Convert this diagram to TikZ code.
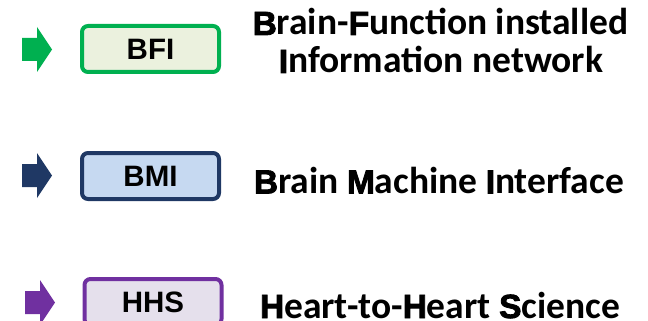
\documentclass[tikz,border=0pt]{standalone}
\usepackage{fontspec}
\setmainfont{Carlito}
\newfontfamily\initfont[FakeBold=2.5]{Liberation Sans Bold}
\newfontfamily\tagfont{Liberation Sans}
\definecolor{bfiline}{RGB}{0,176,80}
\definecolor{bfifill}{RGB}{235,241,222}
\definecolor{bmiline}{RGB}{31,56,100}
\definecolor{bmifill}{RGB}{198,217,241}
\definecolor{hhsline}{RGB}{112,48,160}
\definecolor{hhsfill}{RGB}{229,224,236}
% big heavy initial letter
\newcommand{\Ini}[1]{{\initfont\fontsize{33.5}{33.5}\selectfont #1}}
\begin{document}
\begin{tikzpicture}[x=1pt,y=-1pt,
  tagbox/.style={draw, line width=4pt, rounded corners=6pt, minimum width=137pt,
    minimum height=46pt, inner sep=0pt,
    font=\tagfont\bfseries\fontsize{29.5}{29.5}\selectfont},
  title/.style={anchor=base, inner sep=0pt, align=center,
    font=\bfseries\fontsize{37.5}{38}\selectfont}]
\useasboundingbox (0,0) rectangle (648,321);
\clip (0,0) rectangle (648,321);
% block arrows: tip at (#1+30, #2)
\newcommand{\blockarrow}[3]{%
  \fill[#3] (#1,#2-11.5) -- (#1+15,#2-11.5) -- (#1+15,#2-22.5) -- (#1+30,#2)
    -- (#1+15,#2+22.5) -- (#1+15,#2+11.5) -- (#1,#2+11.5) -- cycle;}
\blockarrow{22}{49.5}{bfiline}
\blockarrow{22}{175.5}{bmiline}
\blockarrow{25}{302.5}{hhsline}
% labelled boxes
\node[tagbox, draw=bfiline, fill=bfifill] (bfi) at (150.5,49) {BFI};
\node[tagbox, draw=bmiline, fill=bmifill] (bmi) at (150.5,176) {BMI};
\node[tagbox, draw=hhsline, fill=hhsfill] (hhs) at (153,302) {HHS};
% descriptions
\node[title] (bfit1) at (440.5,35) {\Ini{B}rain-\Ini{F}unction installed};
\node[title] (bfit2) at (441,73) {\Ini{I}nformation network};
\node[title] (bmit) at (439,193.5) {\Ini{B}rain \Ini{M}achine \Ini{I}nterface};
\node[title] (hhst) at (440,318) {\Ini{H}eart-to-\Ini{H}eart \Ini{S}cience};
\end{tikzpicture}
\end{document}
